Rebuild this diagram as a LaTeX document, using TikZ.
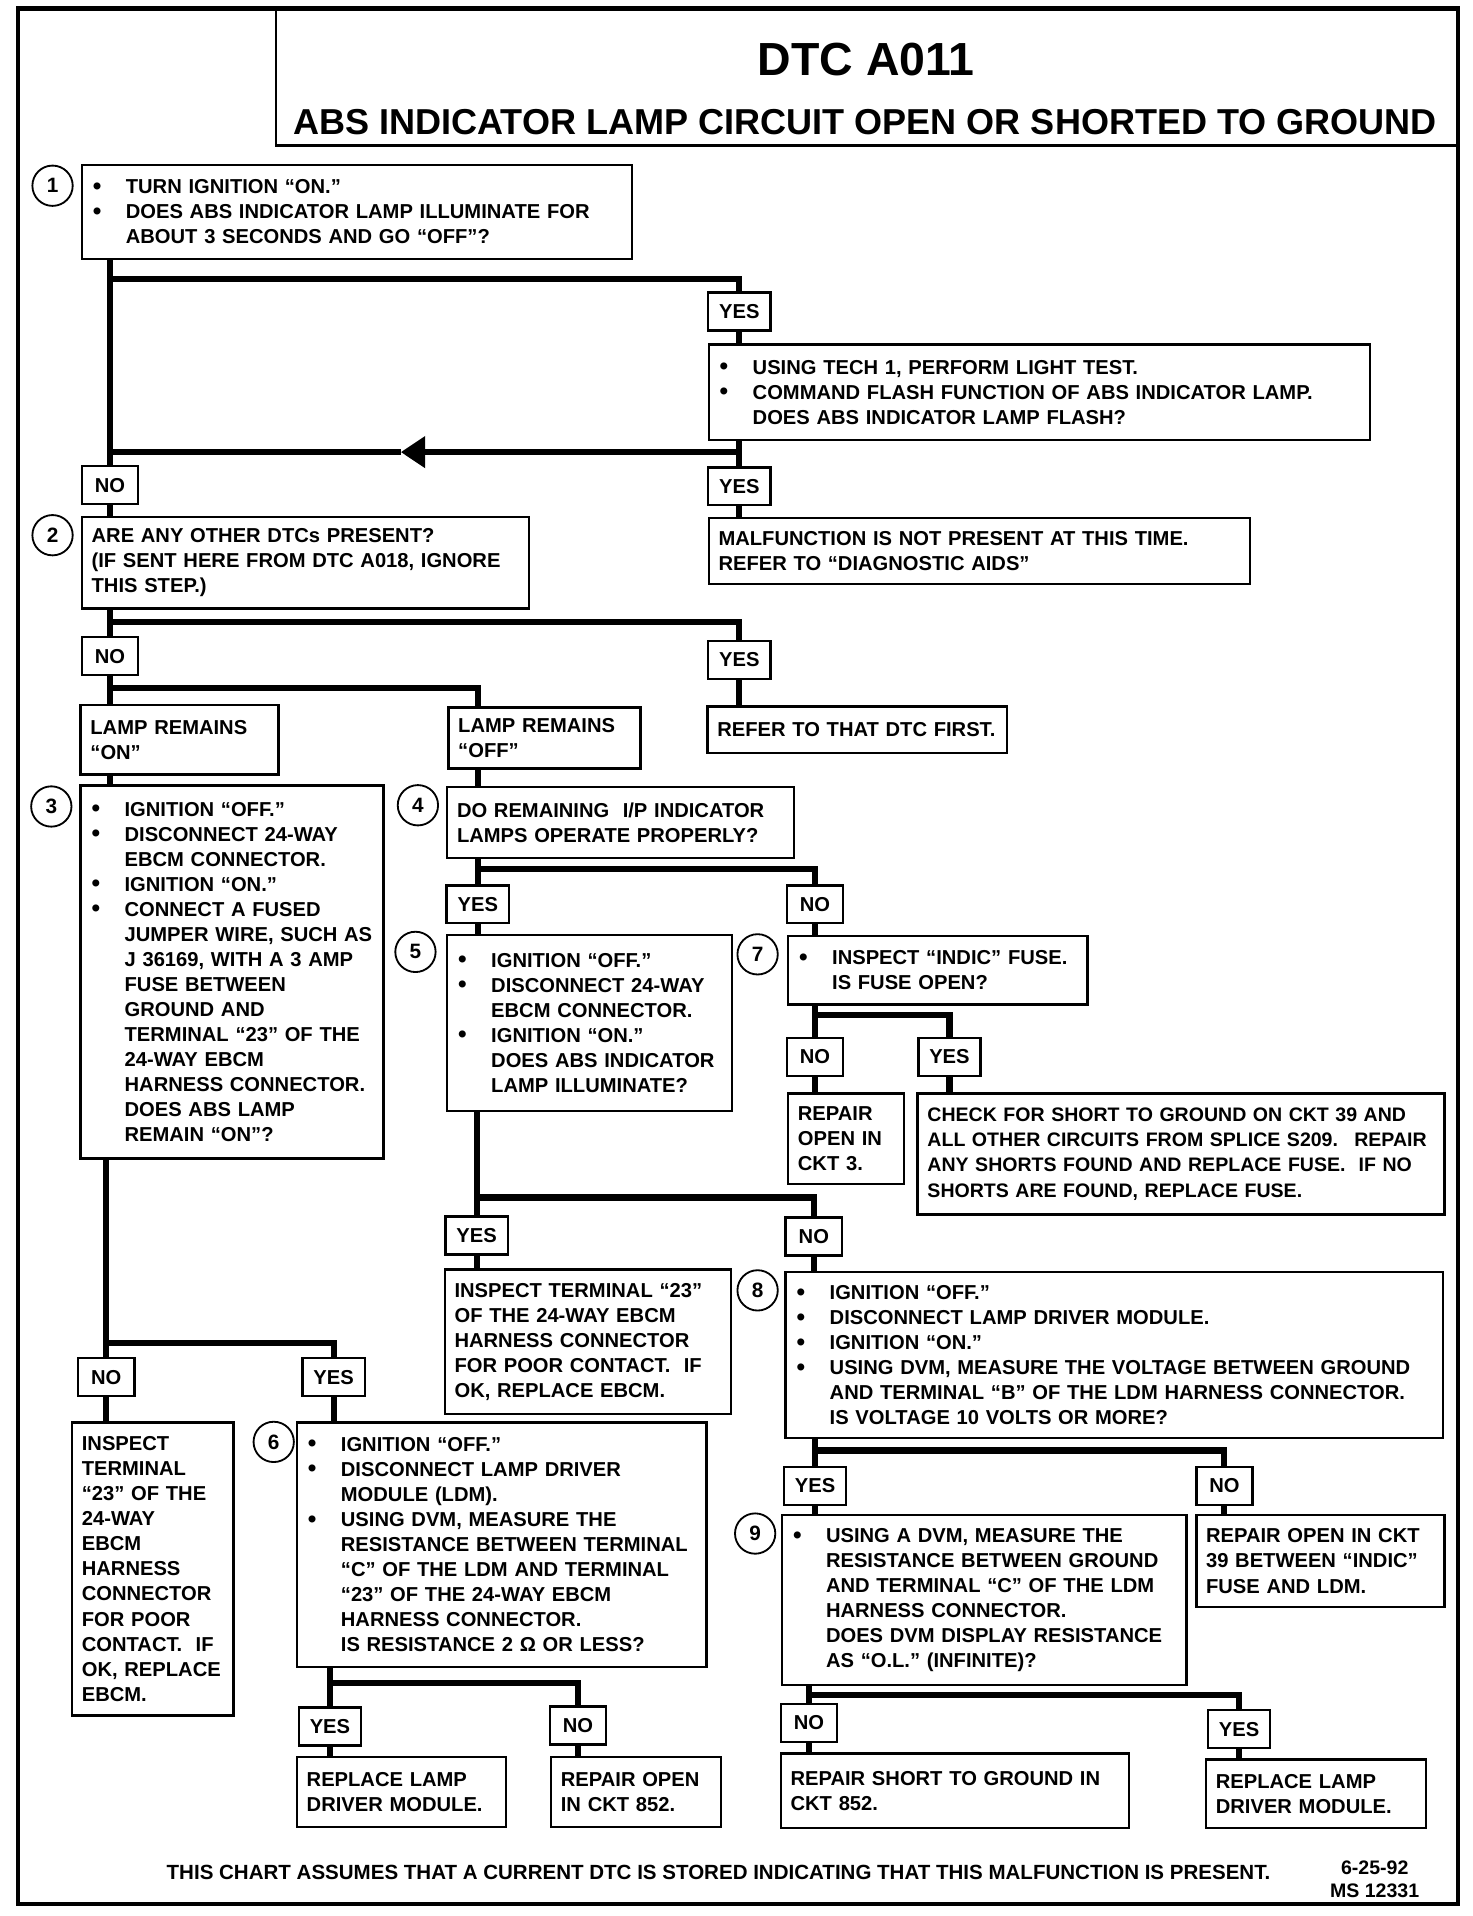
\documentclass[tikz,border=0pt]{standalone}
\usepackage{fontspec}
\setmainfont{Liberation Sans}
\usepackage{tikz}
\usetikzlibrary{arrows.meta}

\newcommand{\bx}{\fontsize{16.5}{20.5}\selectfont\bfseries}
\newcommand{\bul}{\makebox[28pt][l]{\hspace{1pt}\raisebox{-0.5pt}{\fontsize{20}{20}\selectfont\textbullet}}}
\newcommand{\ind}{\hspace*{28pt}}

\begin{document}
\begin{tikzpicture}[x=1pt, y=-1pt, >={Triangle[length=20pt,width=25pt]},
    box/.style={draw, line width=2pt, anchor=north west, inner xsep=8pt, inner ysep=2pt, align=left, font=\bx},
    lbl/.style={draw, line width=2pt, fill=white, font=\bx, minimum width=46pt, minimum height=31pt, inner xsep=9pt, inner ysep=0pt},
    num/.style={draw, circle, line width=1.5pt, minimum size=33pt, inner sep=0pt, font=\fontsize{17}{17}\selectfont\bfseries},
    link/.style={line width=5pt}]
    \useasboundingbox (0,0) rectangle (1205,1568);

    % 1. Khung và tiêu đề
    \draw[line width=3.5pt] (15,7) rectangle (1193,1558);
    \draw[line width=2pt] (226,7) rectangle (1193,119);
    \node[font=\fontsize{38}{40}\selectfont\bfseries] (ttl) at (709,49) {DTC A011};
    \node[font=\fontsize{29.5}{32}\selectfont\bfseries] (sub) at (708,100) {ABS INDICATOR LAMP CIRCUIT OPEN OR SHORTED TO GROUND};

    % 2. Các ô bước
    \node[box, text width=434pt, minimum height=77pt] (b1) at (66,134)
        {\bul TURN IGNITION “ON.”\\ \bul DOES ABS INDICATOR LAMP ILLUMINATE FOR\\ \ind ABOUT 3 SECONDS AND GO “OFF”?};
    \node[box, text width=525pt, minimum height=78pt] (t1) at (579,281)
        {\bul USING TECH 1, PERFORM LIGHT TEST.\\ \bul COMMAND FLASH FUNCTION OF ABS INDICATOR LAMP.\\ \ind DOES ABS INDICATOR LAMP FLASH?};
    \node[box, text width=427pt, minimum height=54pt] (m) at (579,423)
        {MALFUNCTION IS NOT PRESENT AT THIS TIME.\\ REFER TO “DIAGNOSTIC AIDS”};
    \node[box, text width=350pt, minimum height=75pt] (b2) at (66,422)
        {ARE ANY OTHER DTCs PRESENT?\\ (IF SENT HERE FROM DTC A018, IGNORE\\ THIS STEP.)};
    \node[box, text width=229pt, minimum height=38pt] (r) at (578,577)
        {REFER TO THAT DTC FIRST.};
    \node[box, text width=146pt, minimum height=57pt] (lon) at (65,576)
        {LAMP REMAINS\\ “ON”};
    \node[box, text width=141pt, minimum height=50pt] (loff) at (366,578)
        {LAMP REMAINS\\ “OFF”};
    \node[box, text width=232pt, minimum height=305pt] (b3) at (65,642)
        {\bul IGNITION “OFF.”\\ \bul DISCONNECT 24-WAY\\ \ind EBCM CONNECTOR.\\ \bul IGNITION “ON.”\\
         \bul CONNECT A FUSED\\ \ind JUMPER WIRE, SUCH AS\\ \ind J 36169, WITH A 3 AMP\\ \ind FUSE BETWEEN\\
         \ind GROUND AND\\ \ind TERMINAL “23” OF THE\\ \ind 24-WAY EBCM\\ \ind HARNESS CONNECTOR.\\
         \ind DOES ABS LAMP\\ \ind REMAIN “ON”?};
    \node[box, text width=268pt, minimum height=58pt] (b4) at (365,643)
        {DO REMAINING~ I/P INDICATOR\\ LAMPS OPERATE PROPERLY?};
    \node[box, text width=217pt, minimum height=144pt] (b5) at (365,764)
        {\bul IGNITION “OFF.”\\ \bul DISCONNECT 24-WAY\\ \ind EBCM CONNECTOR.\\ \bul IGNITION “ON.”\\
         \ind DOES ABS INDICATOR\\ \ind LAMP ILLUMINATE?};
    \node[box, text width=229pt, minimum height=56pt] (b7) at (644,765)
        {\bul INSPECT “INDIC” FUSE.\\ \ind IS FUSE OPEN?};
    \node[box, text width=79pt, minimum height=74pt] (ro3) at (644,894)
        {REPAIR\\ OPEN IN\\ CKT 3.};
    \node[box, text width=415pt, minimum height=99pt, font=\fontsize{16}{20.5}\selectfont\bfseries] (chk) at (750,894)
        {CHECK FOR SHORT TO GROUND ON CKT 39 AND\\ ALL OTHER CIRCUITS FROM SPLICE S209.~ REPAIR\\
         ANY SHORTS FOUND AND REPLACE FUSE.~ IF NO\\ SHORTS ARE FOUND, REPLACE FUSE.};
    \node[box, text width=218pt, minimum height=118pt] (ins) at (363,1038)
        {INSPECT TERMINAL “23”\\ OF THE 24-WAY EBCM\\ HARNESS CONNECTOR\\ FOR POOR CONTACT.~ IF\\ OK, REPLACE EBCM.};
    \node[box, text width=522pt, minimum height=136pt] (b8) at (642,1040)
        {\bul IGNITION “OFF.”\\ \bul DISCONNECT LAMP DRIVER MODULE.\\ \bul IGNITION “ON.”\\
         \bul USING DVM, MEASURE THE VOLTAGE BETWEEN GROUND\\ \ind AND TERMINAL “B” OF THE LDM HARNESS CONNECTOR.\\
         \ind IS VOLTAGE 10 VOLTS OR MORE?};
    \node[box, text width=116pt, minimum height=240pt] (insb) at (58,1163)
        {INSPECT\\ TERMINAL\\ “23” OF THE\\ 24-WAY\\ EBCM\\ HARNESS\\ CONNECTOR\\ FOR POOR\\ CONTACT.~ IF\\ OK, REPLACE\\ EBCM.};
    \node[box, text width=319pt, minimum height=200pt] (b6) at (242,1163)
        {\bul IGNITION “OFF.”\\ \bul DISCONNECT LAMP DRIVER\\ \ind MODULE (LDM).\\ \bul USING DVM, MEASURE THE\\
         \ind RESISTANCE BETWEEN TERMINAL\\ \ind “C” OF THE LDM AND TERMINAL\\ \ind “23” OF THE 24-WAY EBCM\\
         \ind HARNESS CONNECTOR.\\ \ind IS RESISTANCE 2 Ω OR LESS?};
    \node[box, text width=155pt, minimum height=57pt] (rl1) at (242,1437)
        {REPLACE LAMP\\ DRIVER MODULE.};
    \node[box, text width=123pt, minimum height=57pt] (ro852) at (450,1437)
        {REPAIR OPEN\\ IN CKT 852.};
    \node[box, text width=315pt, minimum height=139pt] (b9) at (639,1239)
        {\bul USING A DVM, MEASURE THE\\ \ind RESISTANCE BETWEEN GROUND\\ \ind AND TERMINAL “C” OF THE LDM\\
         \ind HARNESS CONNECTOR.\\ \ind DOES DVM DISPLAY RESISTANCE\\ \ind AS “O.L.” (INFINITE)?};
    \node[box, text width=187pt, minimum height=75pt] (ro39) at (978,1239)
        {REPAIR OPEN IN CKT\\ 39 BETWEEN “INDIC”\\ FUSE AND LDM.};
    \node[box, text width=269pt, minimum height=61pt] (rs852) at (638,1434)
        {REPAIR SHORT TO GROUND IN\\ CKT 852.};
    \node[box, text width=164pt, minimum height=56pt] (rl2) at (986,1439)
        {REPLACE LAMP\\ DRIVER MODULE.};

    % 3. Nhãn YES / NO
    \foreach \nm/\tx/\x/\y in {y1/YES/605/255, y2/YES/605/398, no1/NO/90/397, no2/NO/90/537,
        y3/YES/605/540, y4/YES/391/740, no4/NO/667/740, no7/NO/667/865, y7/YES/777/865,
        y5/YES/390/1011, no5/NO/666/1012, no3/NO/87/1127, y3b/YES/273/1127, y6/YES/270/1413,
        no6/NO/473/1412, y8/YES/667/1216, no8/NO/1002/1216, no9/NO/662/1410, y9/YES/1014/1415} {
        \node[lbl] (\nm) at (\x,\y) {\tx};
    }

    % 4. Số thứ tự các bước
    \foreach \n/\x/\y in {1/43/152, 2/43/438, 3/42/660, 4/342/659, 5/340/779,
        6/224/1180, 7/620/781, 8/620/1056, 9/618/1255} {
        \node[num, fill=white] (c\n) at (\x,\y) {\n};
    }

    % 5. Các mức rẽ nhánh
    \foreach \j/\y in {j1/228, j2/370, j3/509, j4/563, j5/711, j6/831, j7/980,
        j8/1099, j9/1377, j10/1187, j11/1387} {
        \coordinate (\j) at (0,\y);
    }
    \coordinate (aw) at (328,370);

    % 6. Đường nối
    \draw[link] (b1.south -| no1) -- (no1.north);
    \draw[link] (j1 -| no1) -| (y1.north);
    \draw[link] (y1.south) -- (t1.north -| y1);
    \draw[link] (t1.south -| y2) -- (y2.north);
    \draw[link, ->] (j2 -| y2) -- (aw);
    \draw[link] (aw) -- (j2 -| no1);
    \draw[link] (y2.south) -- (m.north -| y2);
    \draw[link] (no1.south) -- (b2.north -| no1);
    \draw[link] (b2.south -| no2) -- (no2.north);
    \draw[link] (j3 -| no2) -| (y3.north);
    \draw[link] (y3.south) -- (r.north -| y3);
    \draw[link] (no2.south) -- (lon.north -| no2);
    \draw[link] (j4 -| no2) -| (loff.north -| y4);
    \draw[link] (lon.south -| no2) -- (b3.north -| no2);
    \draw[link] (loff.south -| y4) -- (b4.north -| y4);
    \draw[link] (b4.south -| y4) -- (y4.north);
    \draw[link] (j5 -| y4) -| (no4.north);
    \draw[link] (y4.south) -- (b5.north -| y4);
    \draw[link] (no4.south) -- (b7.north -| no4);
    \draw[link] (b7.south -| no7) -- (no7.north);
    \draw[link] (j6 -| no7) -| (y7.north);
    \draw[link] (no7.south) -- (ro3.north -| no7);
    \draw[link] (y7.south) -- (chk.north -| y7);
    \draw[link] (b5.south -| y5) -- (y5.north);
    \draw[link] (j7 -| y5) -| (no5.north);
    \draw[link] (y5.south) -- (ins.north -| y5);
    \draw[link] (no5.south) -- (b8.north -| no5);
    \draw[link] (b3.south -| no3) -- (no3.north);
    \draw[link] (j8 -| no3) -| (y3b.north);
    \draw[link] (no3.south) -- (insb.north -| no3);
    \draw[link] (y3b.south) -- (b6.north -| y3b);
    \draw[link] (b6.south -| y6) -- (y6.north);
    \draw[link] (j9 -| y6) -| (no6.north);
    \draw[link] (y6.south) -- (rl1.north -| y6);
    \draw[link] (no6.south) -- (ro852.north -| no6);
    \draw[link] (b8.south -| y8) -- (y8.north);
    \draw[link] (j10 -| y8) -| (no8.north);
    \draw[link] (y8.south) -- (b9.north -| y8);
    \draw[link] (no8.south) -- (ro39.north -| no8);
    \draw[link] (b9.south -| no9) -- (no9.north);
    \draw[link] (j11 -| no9) -| (y9.north);
    \draw[link] (no9.south) -- (rs852.north -| no9);
    \draw[link] (y9.south) -- (rl2.north -| y9);

    % 7. Ghi chú cuối
    \node[font=\fontsize{16.8}{19}\selectfont\bfseries] (note) at (588,1532)
        {THIS CHART ASSUMES THAT A CURRENT DTC IS STORED INDICATING THAT THIS MALFUNCTION IS PRESENT.};
    \node[font=\fontsize{16}{18.5}\selectfont\bfseries, align=center] (date) at (1125,1538)
        {6-25-92\\ MS 12331};
\end{tikzpicture}
\end{document}
